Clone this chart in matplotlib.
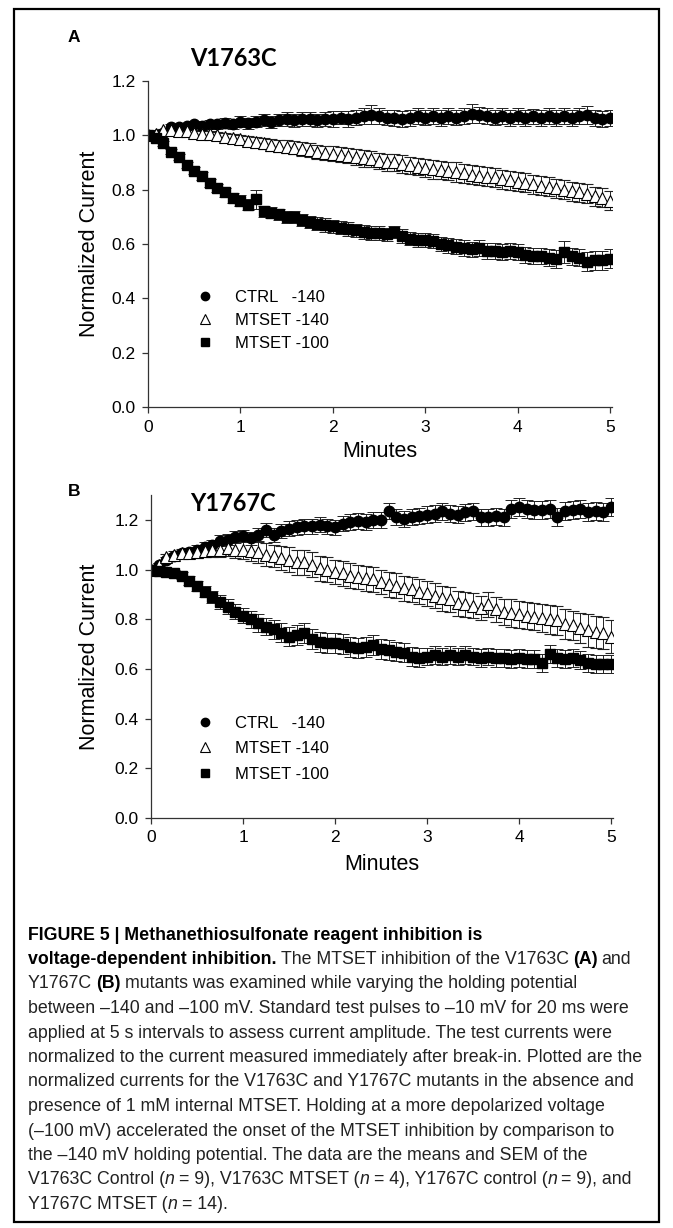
import numpy as np
import matplotlib
matplotlib.use('Agg')
import matplotlib.pyplot as plt
from matplotlib.lines import Line2D
from matplotlib.patches import Rectangle

plt.rcParams['font.family'] = ['Liberation Sans', 'DejaVu Sans']

# test pulse every 5 s, 0..5 min
seconds = list(range(0, 305, 5))
minutes = np.array(seconds) / 60.0

# panel A, V1763C
a_ctrl = [1.00, 1.00, 1.01, 1.03, 1.03, 1.035, 1.04, 1.035, 1.04, 1.04, 1.045, 1.04,
          1.05, 1.045, 1.05, 1.055, 1.05, 1.055, 1.06, 1.055, 1.06, 1.06, 1.055, 1.06,
          1.06, 1.065, 1.06, 1.065, 1.07, 1.075, 1.07, 1.065, 1.065, 1.06, 1.065, 1.07,
          1.065, 1.07, 1.065, 1.07, 1.065, 1.07, 1.08, 1.075, 1.07, 1.065, 1.07, 1.065,
          1.07, 1.065, 1.07, 1.065, 1.07, 1.065, 1.07, 1.065, 1.07, 1.075, 1.065, 1.06,
          1.065]
a_ctrl_sem = [0.0, 0.005, 0.008, 0.01, 0.01, 0.012, 0.012, 0.015, 0.015, 0.015, 0.018, 0.018,
              0.02, 0.02, 0.02, 0.022, 0.022, 0.022, 0.025, 0.025, 0.025, 0.025, 0.025, 0.025,
              0.028, 0.025, 0.028, 0.028, 0.03, 0.035, 0.03, 0.028, 0.03, 0.03, 0.03, 0.03,
              0.028, 0.03, 0.03, 0.03, 0.028, 0.03, 0.035, 0.03, 0.03, 0.028, 0.03, 0.03,
              0.03, 0.03, 0.028, 0.03, 0.03, 0.03, 0.03, 0.03, 0.03, 0.032, 0.03, 0.03,
              0.03]
a_mts140 = [1.00, 1.005, 1.02, 1.02, 1.015, 1.015, 1.01, 1.005, 1.005, 1.00, 0.995, 0.99,
            0.985, 0.98, 0.975, 0.97, 0.965, 0.96, 0.958, 0.955, 0.95, 0.945, 0.94, 0.935,
            0.932, 0.928, 0.925, 0.92, 0.915, 0.912, 0.905, 0.90, 0.90, 0.895, 0.89, 0.885,
            0.88, 0.875, 0.872, 0.868, 0.865, 0.86, 0.855, 0.852, 0.848, 0.845, 0.838, 0.835,
            0.83, 0.825, 0.82, 0.815, 0.81, 0.805, 0.80, 0.795, 0.79, 0.785, 0.775, 0.77,
            0.76]
a_mts140_sem = [0.0, 0.003, 0.005, 0.006, 0.008, 0.01, 0.01, 0.012, 0.012, 0.014, 0.015, 0.016,
                0.018, 0.018, 0.02, 0.02, 0.022, 0.022, 0.024, 0.024, 0.025, 0.025, 0.026, 0.026,
                0.028, 0.028, 0.028, 0.03, 0.03, 0.03, 0.03, 0.032, 0.032, 0.032, 0.032, 0.032,
                0.034, 0.034, 0.034, 0.034, 0.035, 0.035, 0.035, 0.035, 0.035, 0.035, 0.035, 0.035,
                0.035, 0.035, 0.035, 0.035, 0.035, 0.035, 0.035, 0.035, 0.035, 0.035, 0.035, 0.035,
                0.035]
a_mts100 = [1.00, 0.99, 0.97, 0.94, 0.92, 0.89, 0.87, 0.85, 0.825, 0.805, 0.79, 0.77,
            0.76, 0.745, 0.765, 0.72, 0.715, 0.71, 0.70, 0.70, 0.69, 0.68, 0.675, 0.67,
            0.665, 0.66, 0.655, 0.65, 0.645, 0.64, 0.64, 0.635, 0.645, 0.63, 0.62, 0.615,
            0.615, 0.61, 0.60, 0.595, 0.59, 0.585, 0.58, 0.585, 0.575, 0.575, 0.57, 0.575,
            0.57, 0.56, 0.555, 0.555, 0.55, 0.545, 0.57, 0.555, 0.55, 0.535, 0.54, 0.54,
            0.545]
a_mts100_sem = [0.0, 0.005, 0.008, 0.01, 0.01, 0.012, 0.012, 0.014, 0.015, 0.015, 0.016, 0.018,
                0.02, 0.02, 0.035, 0.02, 0.02, 0.02, 0.022, 0.022, 0.022, 0.022, 0.024, 0.024,
                0.025, 0.025, 0.025, 0.025, 0.025, 0.025, 0.025, 0.025, 0.022, 0.025, 0.025, 0.025,
                0.025, 0.025, 0.025, 0.028, 0.028, 0.028, 0.028, 0.03, 0.03, 0.03, 0.03, 0.03,
                0.03, 0.03, 0.03, 0.03, 0.03, 0.032, 0.04, 0.032, 0.032, 0.035, 0.035, 0.035,
                0.035]

# panel B, Y1767C
b_ctrl = [1.00, 1.02, 1.04, 1.055, 1.065, 1.07, 1.08, 1.09, 1.10, 1.115, 1.12, 1.13,
          1.135, 1.125, 1.14, 1.16, 1.14, 1.155, 1.165, 1.17, 1.175, 1.175, 1.18, 1.175,
          1.17, 1.185, 1.19, 1.195, 1.19, 1.20, 1.20, 1.235, 1.21, 1.205, 1.21, 1.215,
          1.22, 1.225, 1.235, 1.225, 1.22, 1.23, 1.235, 1.21, 1.21, 1.215, 1.21, 1.245,
          1.25, 1.245, 1.24, 1.24, 1.245, 1.21, 1.235, 1.24, 1.245, 1.23, 1.235, 1.23,
          1.25]
b_ctrl_sem = [0.0, 0.006, 0.01, 0.012, 0.014, 0.016, 0.018, 0.02, 0.02, 0.022, 0.022, 0.024,
              0.025, 0.025, 0.026, 0.028, 0.028, 0.028, 0.03, 0.03, 0.03, 0.03, 0.03, 0.03,
              0.03, 0.03, 0.032, 0.032, 0.032, 0.032, 0.032, 0.032, 0.032, 0.032, 0.032, 0.032,
              0.034, 0.034, 0.034, 0.034, 0.034, 0.034, 0.034, 0.034, 0.034, 0.034, 0.034, 0.036,
              0.036, 0.036, 0.036, 0.036, 0.036, 0.036, 0.036, 0.036, 0.036, 0.036, 0.036, 0.036,
              0.036]
b_mts140 = [1.00, 1.02, 1.05, 1.06, 1.065, 1.065, 1.07, 1.075, 1.08, 1.08, 1.085, 1.08,
            1.08, 1.075, 1.07, 1.06, 1.055, 1.045, 1.04, 1.03, 1.03, 1.02, 1.005, 1.00,
            0.99, 0.985, 0.975, 0.97, 0.965, 0.96, 0.95, 0.94, 0.935, 0.925, 0.92, 0.91,
            0.905, 0.895, 0.885, 0.88, 0.865, 0.86, 0.855, 0.845, 0.86, 0.84, 0.83, 0.825,
            0.82, 0.815, 0.81, 0.805, 0.80, 0.795, 0.78, 0.775, 0.765, 0.755, 0.75, 0.745,
            0.73]
b_mts140_sem = [0.0, 0.008, 0.012, 0.015, 0.018, 0.02, 0.022, 0.025, 0.028, 0.03, 0.032, 0.035,
                0.038, 0.04, 0.042, 0.045, 0.045, 0.048, 0.05, 0.05, 0.05, 0.05, 0.05, 0.05,
                0.05, 0.05, 0.05, 0.05, 0.05, 0.05, 0.05, 0.05, 0.05, 0.05, 0.05, 0.05,
                0.05, 0.05, 0.05, 0.05, 0.05, 0.05, 0.05, 0.05, 0.05, 0.05, 0.052, 0.055,
                0.055, 0.055, 0.055, 0.058, 0.058, 0.06, 0.06, 0.06, 0.062, 0.065, 0.065, 0.065,
                0.065]
b_mts100 = [1.00, 0.995, 0.99, 0.985, 0.975, 0.955, 0.935, 0.91, 0.89, 0.87, 0.85, 0.83,
            0.815, 0.80, 0.785, 0.77, 0.76, 0.745, 0.73, 0.735, 0.745, 0.72, 0.71, 0.705,
            0.705, 0.70, 0.69, 0.685, 0.69, 0.695, 0.68, 0.675, 0.67, 0.665, 0.65, 0.645,
            0.65, 0.655, 0.65, 0.655, 0.65, 0.655, 0.65, 0.645, 0.65, 0.645, 0.645, 0.64,
            0.645, 0.64, 0.64, 0.625, 0.66, 0.645, 0.64, 0.645, 0.635, 0.625, 0.62, 0.62,
            0.62]
b_mts100_sem = [0.0, 0.005, 0.008, 0.012, 0.015, 0.018, 0.02, 0.022, 0.025, 0.028, 0.03, 0.03,
                0.032, 0.035, 0.035, 0.035, 0.038, 0.038, 0.038, 0.04, 0.04, 0.04, 0.04, 0.04,
                0.04, 0.04, 0.04, 0.04, 0.04, 0.04, 0.04, 0.04, 0.04, 0.038, 0.038, 0.038,
                0.036, 0.036, 0.036, 0.036, 0.036, 0.036, 0.036, 0.036, 0.036, 0.036, 0.036, 0.036,
                0.036, 0.036, 0.036, 0.036, 0.036, 0.036, 0.036, 0.036, 0.036, 0.036, 0.036, 0.036,
                0.036]

legend_labels = ['CTRL   -140', 'MTSET -140', 'MTSET -100']

W, H = 673, 1228
fig = plt.figure(figsize=(W / 100, H / 100), dpi=100)

# outer frame
fig.patches.append(Rectangle((14 / W, 1 - 1222 / H), 645 / W, 1213 / H,
                             transform=fig.transFigure, fill=False, ec='black', lw=1.6))

axA = fig.add_axes([148 / W, 1 - 407 / H, 464 / W, 326 / H])
axB = fig.add_axes([151 / W, 1 - 818 / H, 462 / W, 323 / H])

styles = [dict(marker='o', mfc='black', mec='black', ms=7.5),
          dict(marker='^', mfc='white', mec='black', ms=8, mew=0.8),
          dict(marker='s', mfc='black', mec='black', ms=7)]


def panel(ax, series, ymax, title, tx, ty, leg_xy, leg_sp):
    for (y, e), st in zip(series, styles):
        ax.errorbar(minutes, y, yerr=e, ls='none', ecolor='#222222', elinewidth=0.7,
                    capsize=4.5, capthick=0.7, zorder=2, **st)
    ax.set_xlim(0, 5.02)
    ax.set_ylim(0, ymax)
    ax.set_xticks([0, 1, 2, 3, 4, 5])
    ax.set_yticks([0.0, 0.2, 0.4, 0.6, 0.8, 1.0, 1.2])
    ax.set_yticklabels(['0.0', '0.2', '0.4', '0.6', '0.8', '1.0', '1.2'])
    for s in ['top', 'right']:
        ax.spines[s].set_visible(False)
    for s in ['left', 'bottom']:
        ax.spines[s].set_color('#333333')
        ax.spines[s].set_linewidth(0.9)
    ax.tick_params(direction='out', length=4, width=0.9, color='#333333',
                   labelsize=12.5, pad=5)
    ax.set_xlabel('Minutes', fontsize=15.5)
    ax.set_ylabel('Normalized Current', fontsize=15.5)
    ax.text(tx, ty, title, transform=ax.transAxes, fontsize=17, weight='bold',
            family=['Lato', 'DejaVu Sans'], va='center', ha='left')
    handles = [Line2D([], [], ls='none', **dict(st, ms=st['ms'] - 1.5)) for st in styles]
    ax.legend(handles, legend_labels, loc='upper left', bbox_to_anchor=leg_xy,
              frameon=False, fontsize=12, handlelength=1.0, handletextpad=1.3,
              labelspacing=leg_sp, borderpad=0, borderaxespad=0)


panel(axA, [(a_ctrl, a_ctrl_sem), (a_mts140, a_mts140_sem), (a_mts100, a_mts100_sem)],
      1.2, 'V1763C', 0.09, 1.07, (0.105, 0.358), 0.48)
panel(axB, [(b_ctrl, b_ctrl_sem), (b_mts140, b_mts140_sem), (b_mts100, b_mts100_sem)],
      1.3, 'Y1767C', 0.084, 0.975, (0.099, 0.316), 0.62)

axA.yaxis.set_label_coords(-0.103, 0.5)
axB.yaxis.set_label_coords(-0.11, 0.5)
axA.xaxis.set_label_coords(0.5, -0.138)
axB.xaxis.set_label_coords(0.5, -0.145)
for ax in (axA, axB):
    ax.xaxis.label.set_va('center')

fig.text(68 / W, 1 - 37 / H, 'A', fontsize=12.5, weight='bold', va='center')
fig.text(68 / W, 1 - 492 / H, 'B', fontsize=12.5, weight='bold', va='center')

# caption, drawn run by run so bold / italic pieces sit inline
cap_font = ['Liberation Sans Narrow', 'Liberation Sans', 'DejaVu Sans']
cap_size = 12.8
B, R, I = 'b', 'r', 'i'
caption = [
    [("FIGURE 5 | Methanethiosulfonate reagent inhibition is", B)],
    [("voltage-dependent inhibition.", B), (" The MTSET inhibition of the V1763C", R),
     (" (A)", B), (" and", R)],
    [("Y1767C", R), (" (B)", B), (" mutants was examined while varying the holding potential", R)],
    [("between \u2013140 and \u2013100 mV. Standard test pulses to \u201310 mV for 20 ms were", R)],
    [("applied at 5 s intervals to assess current amplitude. The test currents were", R)],
    [("normalized to the current measured immediately after break-in. Plotted are the", R)],
    [("normalized currents for the V1763C and Y1767C mutants in the absence and", R)],
    [("presence of 1 mM internal MTSET. Holding at a more depolarized voltage", R)],
    [("(\u2013100 mV) accelerated the onset of the MTSET inhibition by comparison to", R)],
    [("the \u2013140 mV holding potential. The data are the means and SEM of the", R)],
    [("V1763C Control (", R), ("n", I), (" = 9), V1763C MTSET (", R), ("n", I),
     (" = 4), Y1767C control (", R), ("n", I), (" = 9), and", R)],
    [("Y1767C MTSET (", R), ("n", I), (" = 14).", R)],
]

renderer = fig.canvas.get_renderer()
probe1 = fig.text(0, 0, 'xx', fontsize=cap_size, family=cap_font)
probe2 = fig.text(0, 0, 'x x', fontsize=cap_size, family=cap_font)
space_w = probe2.get_window_extent(renderer).width - probe1.get_window_extent(renderer).width
probe1.remove()
probe2.remove()

y0, dy = 935, 24.5
for i, line in enumerate(caption):
    xpx = 28
    ypx = y0 + i * dy
    for txt, kind in line:
        if txt.startswith(' '):
            xpx += space_w * 0.85
            txt = txt.lstrip(' ')
        t = fig.text(xpx / W, 1 - ypx / H, txt, fontsize=cap_size, family=cap_font,
                     weight='bold' if kind == B else 'normal',
                     style='italic' if kind == I else 'normal',
                     color='black' if kind == B else '#222222', va='center', ha='left')
        xpx += t.get_window_extent(renderer).width

fig.savefig('out.png', dpi=100)
